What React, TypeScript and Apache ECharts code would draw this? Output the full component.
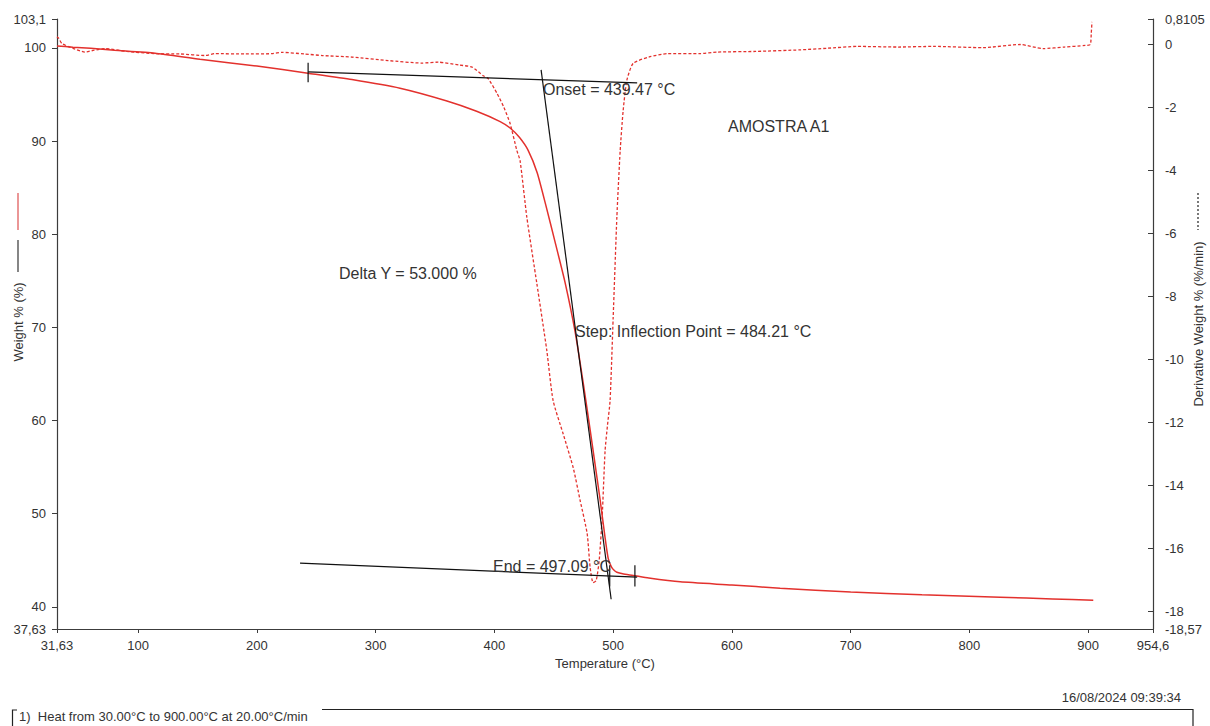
import React, { useEffect, useRef } from "react";
import * as echarts from "echarts";

// Axis extents (as printed on the reference)
const tempExtent = [31.63, 954.6];
const weightExtent = [37.63, 103.1];
const derivExtent = [-18.57, 0.8105];

// Weight % curve: [temperature °C, weight %]
const weightCurve: [number, number][] = [
  [31.63, 100.21], [45, 100.08], [60, 99.95], [80, 99.75], [114.2, 99.43], [152, 98.78],
  [200, 98.05], [243, 97.28], [280, 96.6], [320.5, 95.67], [360, 94.3], [385, 93.2],
  [404.8, 92.09], [413.2, 91.4], [421, 90.4], [428.4, 89.0], [436, 86.6], [443.1, 83.2],
  [451, 79.2], [459.6, 74.76], [468, 69.5], [474.7, 64.1], [480.6, 59.0], [484.2, 55.8],
  [489, 51.5], [493, 47.6], [495.8, 45.2], [498.5, 44.3], [501, 43.9], [503.1, 43.72],
  [508, 43.55], [516.8, 43.38], [530, 43.1], [556.4, 42.69], [600, 42.35], [640.6, 42.01],
  [700, 41.6], [760, 41.3], [825.9, 41.04], [870, 40.85], [904.3, 40.72],
];

// Derivative weight curve: [temperature °C, %/min]
const derivCurve: [number, number][] = [
  [31.63, 0.25], [33, 0.2], [35.8, 0.03], [45, -0.12], [55.2, -0.24], [63, -0.18], [72.1, -0.13],
  [90, -0.22], [114.2, -0.29], [135, -0.3], [156.3, -0.35], [164.7, -0.29], [190, -0.3],
  [212.7, -0.29], [221.2, -0.25], [240, -0.3], [254.9, -0.35], [280, -0.4], [310.4, -0.51],
  [339.1, -0.59], [352.6, -0.56], [370, -0.65], [381.2, -0.72], [390.5, -0.99], [394.7, -1.08],
  [402.3, -1.56], [408, -2.0], [413.2, -2.51], [418.9, -3.37], [421.6, -3.69], [427.3, -5.49],
  [435.7, -7.59], [444.1, -9.72], [449.4, -11.31], [457.8, -12.36], [466.3, -13.44],
  [472.2, -14.49], [478.1, -15.54], [480.6, -16.62], [483.1, -17.1], [485.7, -17.03],
  [488.2, -16.4], [490.7, -15.03], [493.2, -12.9], [495.2, -12.1], [497.4, -11.31], [500, -8.67],
  [503.1, -5.49], [505.9, -3.37], [508.4, -2.1], [511.5, -1.14], [516.8, -0.6], [530, -0.4],
  [545.5, -0.29], [573.2, -0.29], [587.6, -0.24], [620, -0.22], [657.5, -0.17], [680, -0.12],
  [705.5, -0.06], [740, -0.08], [769.5, -0.06], [811.6, -0.1], [842.8, 0.0], [862.2, -0.13],
  [880, -0.08], [897.6, -0.03], [901.8, 0.0], [902.6, 0.35], [903.2, 0.72],
];

// Tangent constructions (weight axis)
const onsetTangent: [number, number][] = [[243.1, 97.42], [520.2, 96.24]];
const inflectionTangent: [number, number][] = [[439.3, 97.64], [498.3, 40.82]];
const endTangent: [number, number][] = [[236.3, 44.69], [520.2, 43.19]];
const onsetTick: [number, number][] = [[243.1, 98.4], [243.1, 96.3]];
const endTick1: [number, number][] = [[497.09, 44.47], [497.09, 42.2]];
const endTick2: [number, number][] = [[518.3, 44.47], [518.3, 42.2]];

const annotations = [
  { text: "Onset = 439.47 °C", x: 543, y: 89 },
  { text: "AMOSTRA A1", x: 728, y: 126 },
  { text: "Delta Y = 53.000 %", x: 339, y: 273 },
  { text: "Step: Inflection Point = 484.21 °C", x: 575, y: 331 },
  { text: "End = 497.09 °C", x: 493, y: 566 },
];

const xAxisName = "Temperature (°C)";
const leftAxisName = "Weight % (%)";
const rightAxisName = "Derivative Weight % (%/min)";
const dateText = "16/08/2024 09:39:34";
const methodText = "1)  Heat from 30.00°C to 900.00°C at 20.00°C/min";

export default function App() {
  const ref = useRef<HTMLDivElement>(null);
  useEffect(() => {
    document.body.style.margin = "0";
    const chart = echarts.init(ref.current!, null, { renderer: "svg" });
    const font = "'Liberation Sans', Arial, Helvetica, sans-serif";
    const axisColor = "#3c3c3c";
    const textColor = "#333";
    const red = "#e3312d";
    const fmt = (v: number) => String(v).replace(".", ",");

    const tangentSeries = (data: [number, number][]) => ({
      type: "line",
      yAxisIndex: 0,
      data,
      showSymbol: false,
      symbol: "none",
      silent: true,
      lineStyle: { color: "#111", width: 1.2 },
      z: 4,
    });

    chart.setOption({
      animation: false,
      backgroundColor: "#fff",
      grid: { left: 57, right: 57, top: 19, bottom: 97, containLabel: false },
      xAxis: {
        type: "value",
        min: tempExtent[0],
        max: tempExtent[1],
        splitNumber: 9,
        axisLine: { show: true, onZero: false, lineStyle: { color: axisColor, width: 1.2 } },
        axisTick: { show: true, inside: false, length: 4, lineStyle: { color: axisColor } },
        axisLabel: {
          formatter: fmt, showMinLabel: true, showMaxLabel: true,
          color: textColor, fontSize: 13, fontFamily: font, margin: 10,
        },
        splitLine: { show: false },
        name: xAxisName,
        nameLocation: "middle",
        nameGap: 26,
        nameTextStyle: { color: textColor, fontSize: 13, fontFamily: font },
      },
      yAxis: [
        {
          type: "value",
          position: "left",
          min: weightExtent[0],
          max: weightExtent[1],
          splitNumber: 7,
          axisLine: { show: true, onZero: false, lineStyle: { color: axisColor, width: 1.2 } },
          axisTick: { show: true, inside: false, length: 5, lineStyle: { color: axisColor } },
          axisLabel: {
            formatter: fmt, showMinLabel: true, showMaxLabel: true,
            color: textColor, fontSize: 13, fontFamily: font, margin: 11,
          },
          splitLine: { show: false },
        },
        {
          type: "value",
          position: "right",
          min: derivExtent[0],
          max: derivExtent[1],
          splitNumber: 10,
          axisLine: { show: true, onZero: false, lineStyle: { color: axisColor, width: 1.2 } },
          axisTick: { show: true, inside: true, length: 5, lineStyle: { color: axisColor } },
          axisLabel: {
            formatter: fmt, showMinLabel: true, showMaxLabel: true,
            color: textColor, fontSize: 13, fontFamily: font, margin: 12,
          },
          splitLine: { show: false },
        },
      ],
      series: [
        {
          type: "line",
          yAxisIndex: 1,
          data: derivCurve,
          showSymbol: false,
          symbol: "none",
          smooth: 0.2,
          lineStyle: { color: red, width: 1.3, type: [3, 2] },
          z: 2,
        },
        {
          type: "line",
          yAxisIndex: 0,
          data: weightCurve,
          showSymbol: false,
          symbol: "none",
          smooth: 0.2,
          lineStyle: { color: red, width: 1.5 },
          z: 3,
        },
        tangentSeries(onsetTangent),
        tangentSeries(inflectionTangent),
        tangentSeries(endTangent),
        tangentSeries(onsetTick),
        tangentSeries(endTick1),
        tangentSeries(endTick2),
      ],
      graphic: [
        ...annotations.map((a) => ({
          type: "text",
          x: a.x,
          y: a.y,
          z: 10,
          style: { text: a.text, fill: textColor, fontSize: 16, fontFamily: font, align: "left", verticalAlign: "middle" },
        })),
        { type: "line", shape: { x1: 18, y1: 193, x2: 18, y2: 230 }, style: { stroke: "#e57373", lineWidth: 1.5 } },
        { type: "line", shape: { x1: 18, y1: 240, x2: 18, y2: 272 }, style: { stroke: "#444", lineWidth: 1.3 } },
        {
          type: "text", x: 18, y: 322, rotation: Math.PI / 2,
          style: { text: leftAxisName, fill: textColor, fontSize: 13, fontFamily: font, align: "center", verticalAlign: "middle" },
        },
        { type: "line", shape: { x1: 1198, y1: 193, x2: 1198, y2: 230 }, style: { stroke: "#333", lineWidth: 1.3, lineDash: [2, 2] } },
        {
          type: "text", x: 1198, y: 324, rotation: Math.PI / 2,
          style: { text: rightAxisName, fill: textColor, fontSize: 13, fontFamily: font, align: "center", verticalAlign: "middle" },
        },
        {
          type: "text", x: 1181, y: 697,
          style: { text: dateText, fill: textColor, fontSize: 13, fontFamily: font, align: "right", verticalAlign: "middle" },
        },
        {
          type: "text", x: 19, y: 716,
          style: { text: methodText, fill: textColor, fontSize: 13, fontFamily: font, align: "left", verticalAlign: "middle" },
        },
        { type: "polyline", shape: { points: [[17, 710], [12.5, 710], [12.5, 726]] }, style: { stroke: "#222", lineWidth: 1.2, fill: "none" } },
        { type: "polyline", shape: { points: [[322, 709.5], [1193, 709.5], [1193, 726]] }, style: { stroke: "#222", lineWidth: 1.2, fill: "none" } },
      ],
    });
    return () => chart.dispose();
  }, []);
  return <div ref={ref} style={{ width: 1210, height: 726 }} />;
}
